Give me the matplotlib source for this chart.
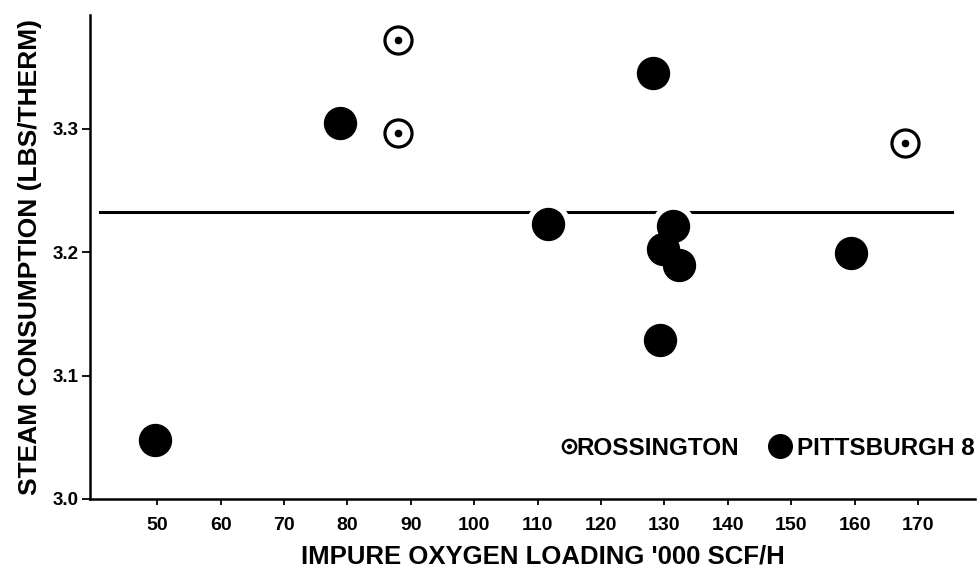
import matplotlib
matplotlib.use("Agg")
import matplotlib.pyplot as plt

ross_x = [87.9, 88.0, 168.0]
ross_y = [3.372, 3.297, 3.289]
pitt_x = [78.9, 128.2, 111.7, 131.4, 129.8, 132.3, 129.3, 159.5, 49.7]
pitt_y = [3.305, 3.345, 3.223, 3.221, 3.203, 3.190, 3.129, 3.199, 3.048]
mean_y = 3.233
mean_x = [41.0, 175.4]
on_line = [2, 3]  # pittsburgh points that cut the mean line

xticks = list(range(50, 180, 10))
yticks = [3.0, 3.1, 3.2, 3.3]

plt.rcParams["font.family"] = ["Liberation Sans", "DejaVu Sans"]
plt.rcParams["font.weight"] = "bold"

fig = plt.figure(figsize=(9.79, 5.74), dpi=100)
ax = fig.add_axes([0.092, 0.131, 0.904, 0.843])

ax.plot(mean_x, [mean_y, mean_y], color="black", lw=2.2, zorder=1)
# white halo where the line is broken around the markers
ax.plot([pitt_x[i] for i in on_line], [pitt_y[i] for i in on_line], "o",
        ms=31, color="white", zorder=2)
ax.plot(pitt_x, pitt_y, "o", ms=23, color="black", zorder=3)
ax.plot(ross_x, ross_y, "o", ms=19.5, mfc="white", mec="black", mew=2.3, zorder=3)
ax.plot(ross_x, ross_y, "o", ms=4.5, color="black", zorder=4)

ax.set_xlim(39.4, 179.0)
ax.set_ylim(3.0, 3.3925)
ax.set_xticks(xticks)
ax.set_yticks(yticks)
ax.set_xticklabels([str(t) for t in xticks], fontsize=14, fontweight="bold")
ax.set_yticklabels([f"{t:.1f}" for t in yticks], fontsize=13.5, fontweight="bold")
ax.tick_params(axis="x", length=4, width=1.3, pad=9)
ax.tick_params(axis="y", length=6, width=1.3, pad=2)

for s in ("top", "right"):
    ax.spines[s].set_visible(False)
for s in ("left", "bottom"):
    ax.spines[s].set_linewidth(1.8)

ax.set_xlabel("IMPURE OXYGEN LOADING '000 SCF/H", fontsize=18.5, fontweight="bold")
ax.xaxis.set_label_coords(0.512, -0.095)
ax.set_ylabel("STEAM CONSUMPTION (LBS/THERM)", fontsize=19, fontweight="bold", labelpad=8)

# legend drawn by hand, as in the scan
leg_y = 0.1095
ax.plot([0.541], [leg_y], "o", ms=9.5, mfc="white", mec="black", mew=1.8,
        transform=ax.transAxes, clip_on=False)
ax.plot([0.541], [leg_y], "o", ms=2.5, color="black", transform=ax.transAxes, clip_on=False)
ax.text(0.549, 0.091, "ROSSINGTON", transform=ax.transAxes, fontsize=17.5,
        fontweight="bold", va="baseline", ha="left")
ax.plot([0.780], [leg_y], "o", ms=17, color="black", transform=ax.transAxes, clip_on=False)
ax.text(0.799, 0.091, "PITTSBURGH 8", transform=ax.transAxes, fontsize=17.5,
        fontweight="bold", va="baseline", ha="left")

fig.savefig("out.png", dpi=100, facecolor="white")
